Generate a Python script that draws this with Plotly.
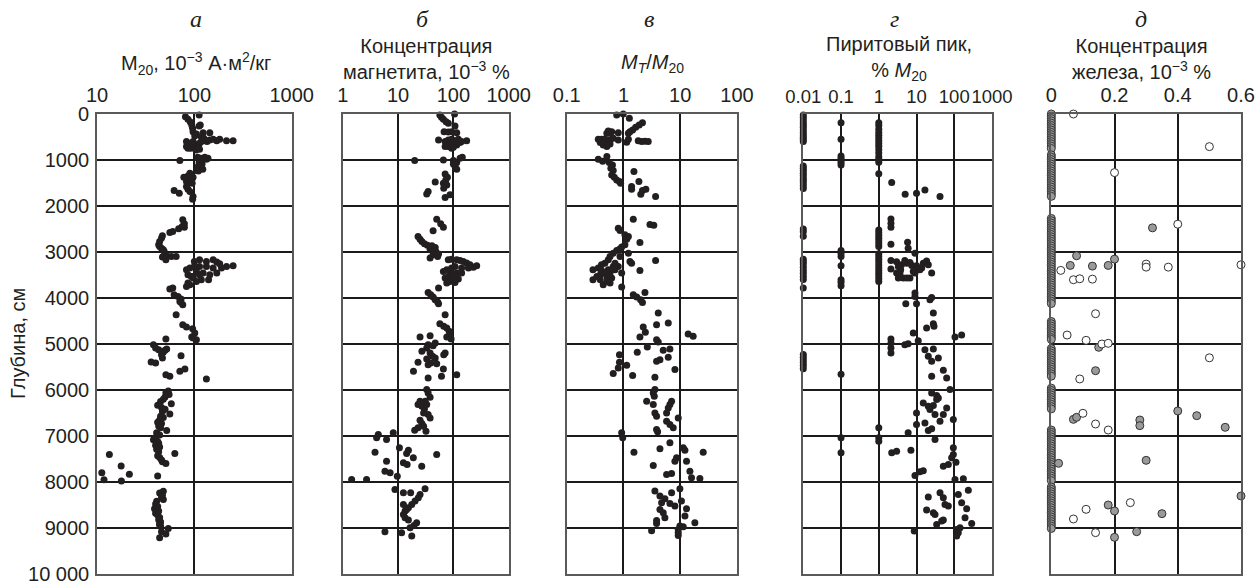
import plotly.graph_objects as go

# ---------------- data (depth in cm, value) ----------------
# Panel а: M20, 10^-3 A·m2/kg
a_depth = [22, 58, 116, 174, 239, 311, 260, 239, 384, 434, 478, 405, 405, 492, 528,
           600, 651, 695, 622, 673, 600, 709, 637, 564, 600, 579, 564, 550, 600, 579, 550, 579, 579, 745, 745, 767, 781, 745, 709,
           1013, 941, 962, 941, 984, 962, 1056, 1085, 1129, 1165, 1201, 1237, 1230,
           1288, 1346, 1375, 1433, 1375, 1469, 1490, 1505, 1577, 1664, 1722, 1635, 1686, 1794, 1852,
           2301, 2388, 2446, 2496, 2460, 2554, 2576,
           2648, 2698, 2771, 2844, 2880, 2916, 2952, 2988, 3061, 3111, 3097, 3097, 3169,
           3205, 3169, 3205, 3169, 3219, 3256, 3314, 3300, 3350, 3350, 3314, 3314, 3314, 3350, 3386, 3422, 3459, 3495, 3459,
           3495, 3531, 3495, 3531, 3603, 3603, 3640, 3567, 3712, 3676, 3748, 3784,
           3806, 3929, 3965, 4023, 4074, 4146, 4096,
           4363, 4580, 4631, 4667, 4761, 4848, 4870, 4906, 4891,
           5014, 5087, 5123, 5137, 5181, 5231, 5304, 5412, 5391, 5593, 5253, 5543, 5702, 5760, 5666, 5109,
           6020, 6060, 6100, 6150, 6200, 6250, 6300, 6330, 6380, 6420, 6470, 6520, 6570, 6600, 6650, 6700, 6730,
           6780, 6820, 6880, 6930, 6980, 7030, 7080, 7120, 7160, 7200, 7240, 7290, 7340, 7380, 7430, 7470, 7520,
           7560, 7600, 7650,
           7400, 7800, 7950, 7980, 7830, 7870,
           8200, 8240, 8290, 8330, 8380, 8420, 8480, 8530, 8580, 8630, 8680, 8720, 8770, 8820, 8870, 8920, 8960,
           9010, 8930, 9080, 9130, 9210, 9160]
a_value = [112, 81, 86, 91, 94, 96, 112, 115, 97, 105, 101, 123, 144, 118, 125,
           83, 90, 100, 97, 104, 97, 110, 113, 123, 118, 133, 144, 156, 135, 170, 182, 214, 250, 92, 105, 113, 104, 86, 83,
           71, 108, 117, 128, 133, 138, 112, 120, 110, 115, 122, 110, 105,
           90, 86, 97, 94, 78, 83, 90, 95, 83, 62, 70, 86, 90, 97, 96,
           76, 79, 75, 69, 79, 60, 56,
           47, 46, 44, 43, 44, 46, 48, 49, 51, 47, 58, 65, 51,
           100, 113, 133, 156, 170, 182, 214, 250, 190, 156, 133, 113, 100, 90, 83, 105, 123, 144,
           170, 113, 97, 86, 93, 118, 140, 105, 97, 90, 86, 83,
           60, 56, 62, 68, 73, 71, 76,
           73, 65, 76, 83, 96, 101, 94, 97, 105,
           51, 38, 40, 43, 50, 48, 46, 47, 40, 36, 71, 73, 80, 56, 133, 51,
           52, 54, 51, 55, 50, 48, 45, 58, 42, 46, 50, 47, 56, 45, 48, 44, 42,
           46, 43, 45, 52, 41, 44, 40, 38, 42, 43, 40, 44, 41, 43, 63, 42, 44,
           46, 47, 51,
           17.7, 13.4, 11.2, 11.8, 17.8, 21.5,
           42, 48, 44, 47, 46, 48, 41, 40, 42, 39, 43, 40, 42, 44, 43, 45, 44,
           45, 54, 44, 46, 51, 44]

# Panel б: magnetite concentration, 10^-3 %
b_depth = [20, 0, 72, 116, 166, 203, 260, 384, 391, 384, 405, 564, 600, 564, 550, 579, 550, 579, 651, 673, 637, 673,
           709, 745, 622, 709, 724, 600,
           1013, 999, 1013, 1056, 962, 941, 1129, 1201, 1085,
           1302, 1375, 1433, 1505, 1476, 1541, 1614, 1686, 1737, 1758, 1816,
           2287, 2388, 2460, 2540,
           2663, 2721, 2771, 2822, 2851, 2865, 2902, 2938, 2988, 3046, 3061, 3133, 3097,
           3169, 3155, 3169, 3183, 3205, 3241, 3278, 3300, 3329, 3350, 3350, 3314, 3350, 3386, 3422, 3422, 3459,
           3459, 3495, 3531, 3567, 3567, 3589, 3640, 3676, 3662,
           3784, 3878, 3929, 3980, 4038, 4088, 4124,
           4363, 4558, 4616, 4653, 4725, 4891, 4848, 4761,
           4848, 4819, 5014, 5087, 5036, 4978, 5159, 5195, 5268, 5304, 5326, 5449, 5412, 5427, 5231, 5195, 5398,
           5593, 5543, 5702, 5738, 5666,
           5991, 6064, 6158, 6245, 6245, 6317, 6353, 6411, 6534, 6606, 6657, 6729, 6787, 6823, 6874, 6896, 6498, 6317,
           6932, 6968, 7040, 7076, 7352, 7257, 7308, 7381, 7475, 7583, 7619, 7656, 7402, 7547, 7764, 7800, 7873,
           7945, 7945,
           8162, 8234, 8234, 8148, 8271, 8343, 8415, 8488, 8560, 8632, 8705, 8777, 8828, 8886, 8943, 8994, 9081,
           9103, 9175, 8596, 8488]
b_value = [57, 105, 61, 66, 74, 81, 107, 68, 81, 93, 115, 54, 71, 81, 93, 107, 123, 174, 76, 87, 100, 115,
           81, 93, 132, 71, 100, 141,
           20, 66, 100, 115, 132, 145, 107, 115, 100,
           71, 78, 73, 66, 47, 76, 67, 35, 33, 87, 71,
           50, 59, 66, 43,
           23, 25, 27, 30, 34, 41, 47, 38, 48, 54, 43, 38, 52,
           81, 93, 115, 132, 151, 174, 200, 264, 230, 187, 141, 107, 93, 76, 66, 87, 115,
           141, 100, 81, 71, 93, 123, 87, 76, 107,
           54, 35, 39, 43, 47, 52, 54,
           71, 57, 67, 76, 84, 91, 76, 87,
           25, 38, 35, 33, 43, 47, 27, 38, 42, 47, 33, 35, 39, 50, 67, 71, 23,
           19, 66, 61, 35, 115,
           33, 35, 38, 31, 25, 23, 27, 30, 35, 38, 25, 27, 29, 23, 20, 32, 29, 33,
           8.2, 4.4, 4.1, 6.2, 3.84, 10.6, 15.4, 14.3, 18.9, 12.5, 14.6, 26.8, 50, 6.2, 5.8, 7.2, 9.7,
           1.45, 2.7,
           8.8, 12.5, 16.9, 30.8, 25, 23.3, 20.3, 17.7, 15.4, 13.4, 12.5, 13.4, 15.4, 21.7, 19.5, 16.5, 5.8,
           11.6, 17.7, 14.3, 12.5]

# Panel в: M_T / M_20
c_depth = [22, 0, 94, 188, 239, 289, 347, 384, 420, 384, 369, 420, 420, 405, 550, 550, 543, 600, 564, 528, 564,
           615, 550, 579, 600, 593, 600, 673, 709, 622, 651,
           984, 1027, 926, 1056, 1107, 1179, 1230, 1324, 1375, 1433, 1469, 1505,
           1252, 1469, 1577, 1635, 1664, 1635, 1744, 1794,
           2287, 2402, 2417, 2482, 2533, 2627, 2663, 2721, 2793,
           2844, 2894, 2938, 2967, 3025, 3025, 3097, 3169, 3242, 3278, 3386, 3603, 3459, 3531, 3495, 3712, 3459,
           3386, 3314, 3459, 3763, 3205, 3242, 3401, 3184, 3350, 3401, 3444, 3386, 3603, 3640, 3567, 3314, 3097,
           3242, 3531, 3676,
           3929, 3980, 4038, 3878, 4096,
           4327, 4580, 4544, 4631, 4747, 4848, 4783, 4834, 4906, 4957, 5065, 5181, 5231, 5137, 5109, 5289, 5340,
           5376, 5557, 5463, 5398, 5644, 5687, 5521, 5724,
           5991, 6064, 6136, 6245, 6317, 6245, 6389, 6498, 6498, 6570, 6606, 6823, 6751, 6679, 6859, 6910, 6317,
           6932, 7040, 7352, 7279, 7149, 7257, 7308, 7352, 7475, 7547, 7547, 7641, 7836, 7815, 7764, 7909, 7923,
           8198, 8307, 8365, 8234, 8148, 8452, 8466, 8524, 8415, 8596, 8669, 8777, 8582, 8741, 8835, 8900, 8886,
           8958, 8973, 9030, 9103, 9059, 9161]
c_value = [0.76, 0.99, 1.27, 2.16, 1.89, 1.64, 1.45, 1.30, 1.22, 0.62, 0.54, 0.51, 0.58, 0.81, 0.36, 0.41, 0.47,
           0.51, 0.58, 0.66, 0.81, 1.14, 1.22, 1.82, 2.09, 2.39, 2.73, 0.44, 0.51, 0.39, 0.58,
           0.36, 0.43, 0.51, 0.56, 0.64, 0.60, 0.66, 0.62, 0.69, 0.76, 0.85, 0.89,
           1.53, 1.87, 1.39, 1.39, 2.16, 2.48, 2.02, 3.68,
           1.49, 2.93, 3.42, 0.81, 0.87, 1.06, 1.22, 1.14, 1.95,
           1.06, 0.93, 0.85, 0.76, 1.22, 0.66, 0.58, 0.54, 0.47, 0.41, 0.29, 0.29, 0.44, 0.51, 0.39, 0.44, 0.58,
           0.71, 0.81, 0.93, 0.93, 1.30, 1.39, 1.95, 3.68, 0.36, 0.41, 0.47, 0.54, 0.39, 0.51, 0.62, 0.66, 0.87,
           0.71, 0.34, 0.58,
           1.49, 1.71, 2.0, 2.39, 2.16,
           4.10, 3.83, 6.15, 2.23, 2.43, 1.95, 13.8, 16.9, 3.83, 4.10, 2.63, 1.75, 0.85, 5.02, 6.58, 6.15, 4.39,
           3.83, 8.06, 1.14, 0.85, 0.66, 1.45, 0.81, 3.58,
           3.58, 3.35, 3.49, 2.56, 3.35, 7.04, 6.15, 5.75, 3.58, 3.83, 9.22, 7.53, 6.58, 5.75, 3.83, 4.0, 6.58,
           0.93, 0.97, 1.53, 4.39, 6.58, 11.3, 12.1, 25.4, 8.62, 8.06, 12.9, 3.35, 5.75, 7.04, 14.8, 15.8, 22.2,
           3.58, 4.39, 5.37, 7.04, 9.86, 4.70, 6.58, 8.06, 10.5, 4.39, 5.02, 5.37, 12.9, 12.1, 3.83, 3.83, 18.1,
           9.86, 11.3, 9.22, 9.22, 3.13, 9.22]

# Panel г: pyrite peak, % of M20
d_depth = [22, 72, 130, 188, 239, 289, 347, 405, 456, 506, 550, 600,
           1129, 1180, 1230, 1290, 1340, 1400, 1450, 1500, 1560, 1620,
           2500, 2560, 2660,
           3160, 3210, 3260, 3330, 3400, 3460, 3530, 3600, 3780,
           5230, 5290, 5350, 5410, 5470, 5540,
           188, 550, 912, 960, 1010, 1060, 1107, 2967, 3030, 3097, 3300, 3603, 3660, 3734, 5660, 7040, 7366,
           188, 250, 330, 400, 460, 520, 580, 640, 700, 770, 850, 930, 990, 1050, 1300,
           2520, 2580, 2640, 2700, 2760, 2820, 2880,
           3040, 3100, 3160, 3220, 3280, 3340, 3400, 3460, 3520, 3580, 3640,
           6823, 7040, 7113,
           1490, 1744, 1722, 1650, 1794,
           2280, 2373, 2460, 2829, 2786, 2916, 3025, 3184, 3372, 3213, 3278, 3242, 3184, 3227, 3314, 3292, 3300,
           3198, 3278, 3242, 3459, 3350, 3422, 3459, 3459, 3459, 3567, 3567, 3567, 3567, 3386, 3386,
           3893, 3965, 4124, 4124, 4038, 3987,
           4327, 4559, 4616, 4653,
           4891, 4978, 5087, 5195, 4761, 4928, 5014, 4993,
           4848, 4805, 5123, 5109, 5268, 5376, 5304, 5572, 5702, 5738, 5991,
           6064, 6122, 6172, 6281, 6353, 6339, 6425, 6534, 6534, 6679, 6643, 6498, 6751, 6715, 6881, 6845, 6389, 6208,
           6932, 7076, 7366, 7330, 7308, 7257, 7475, 7656, 7619, 7569, 7858, 7779, 7757, 7945, 7931, 7402,
           8177, 8271, 8452, 8234, 8328, 8343, 8488, 8524, 8611, 8669, 8705, 8922, 8828, 8850, 8582, 8777, 8900,
           8994, 9030, 9103, 9175, 9067]
d_value = [0.01] * 40 + [0.1] * 17 + [1.0] * 36 + [
           2.2, 5.0, 10, 16.7, 41.9,
           2.1, 2.1, 2.1, 2.1, 5.8, 6.0, 9.1, 2.1, 2.1, 2.97, 4.0, 5.5, 4.9, 6.7, 3.3, 7.5, 10,
           18.5, 20.5, 15.1, 25.2, 13.7, 8.2, 9.1, 2.97, 3.64, 4.45, 6.7, 5.5, 3.3, 3.8, 12.3,
           9.1, 9.1, 10, 5.2, 22.7, 25.2,
           27.9, 27.9, 29, 18.5,
           2.1, 2.1, 2.1, 2.1, 8.2, 11.1, 4.9, 6.0,
           104.6, 157, 16.7, 27.9, 20.5, 25.2, 37.9, 51.3, 25.2, 62.9, 77,
           25.2, 34.2, 37.9, 15.1, 20.5, 27.9, 22.7, 30.9, 51.3, 41.9, 94.5, 10, 10, 16.7, 20.5, 25.2, 62.9, 34.2,
           6.0, 30.9, 2.2, 2.97, 7.1, 94.5, 85.3, 51.3, 69.6, 111, 9.1, 12.3, 15.1, 104.6, 174, 94.5,
           236, 128, 157, 41.9, 20.5, 51.3, 56.8, 69.6, 18.5, 27.9, 30.9, 34.2, 51.3, 46.4, 213, 193, 290,
           142, 115.8, 128, 115.8, 8.7]

# Panel д: iron concentration, 10^-3 %
e_zero_depth = [0, 50, 100, 150, 200, 250, 300, 350, 400, 450, 500, 550, 600, 650, 700, 750,
                890, 940, 990, 1040, 1090, 1140, 1190, 1240, 1290, 1340, 1390, 1440, 1490, 1540, 1590, 1640,
                1690, 1740, 1790,
                2270, 2320, 2370, 2420, 2470, 2520, 2570, 2620, 2670, 2720, 2770, 2820, 2870, 2920, 2970, 3020,
                3070, 3120, 3170, 3220, 3270, 3320, 3370, 3420, 3470, 3520, 3570, 3620, 3670, 3720, 3770, 3820,
                3870, 3920, 3970, 4020, 4070, 4120,
                4510, 4560, 4610, 4660, 4710, 4760, 4810, 4860, 4900,
                5100, 5150, 5200, 5250, 5300, 5350, 5400, 5450, 5500, 5550, 5600, 5650, 5700,
                5960, 6010, 6060, 6110, 6160, 6210, 6260, 6310, 6360, 6410,
                6870, 6920, 6970, 7020, 7070, 7120, 7170, 7220, 7270, 7320, 7370, 7420, 7470, 7520, 7570, 7620,
                7670, 7720, 7770, 7820, 7870, 7920, 7970,
                8110, 8160, 8210, 8260, 8310, 8360, 8410, 8460, 8510, 8560, 8610, 8660, 8710, 8760, 8810, 8860,
                8910, 8960, 9010]
e_zero_value = [0.0] * 157
e_grey_depth = [2475, 3082, 3292, 3307, 3292, 3155, 5072, 5580, 6638, 6594, 6652, 6775, 6456, 6558, 6811,
                7594, 7529, 8304, 8500, 8630, 8688, 9080, 9203]
e_grey_value = [0.32, 0.08, 0.06, 0.13, 0.18, 0.20, 0.15, 0.14, 0.07, 0.08, 0.28, 0.28, 0.40, 0.46, 0.55,
                0.023, 0.30, 0.60, 0.18, 0.20, 0.35, 0.27, 0.20]
e_open_depth = [0, 709, 1274, 2395, 3278, 3400, 3603, 3582, 3590, 3263, 3329, 3329, 4342, 4805, 4920, 5000, 4985,
                5300, 5760, 6507, 6739, 6870, 8449, 8594, 8804, 9101]
e_open_value = [0.07, 0.50, 0.20, 0.40, 0.60, 0.03, 0.07, 0.09, 0.13, 0.30, 0.30, 0.37, 0.14, 0.05, 0.11, 0.16,
                0.18, 0.50, 0.09, 0.10, 0.14, 0.18, 0.25, 0.11, 0.07, 0.14]

depth_ticks = [0, 1000, 2000, 3000, 4000, 5000, 6000, 7000, 8000, 9000, 10000]
depth_labels = ["0", "1000", "2000", "3000", "4000", "5000", "6000", "7000", "8000", "9000", "10 000"]

# ---------------- layout geometry ----------------
W, H = 1256, 581
TOP, BOTTOM = 114, 574
FONT = "Liberation Sans, Arial, sans-serif"
SERIF = "Liberation Serif, Times New Roman, serif"
INK = "#231f20"
TICK_SIZE = 20
TITLE_SIZE = 20

def px_x(x):
    return x / W

def px_y(y):
    return (BOTTOM - y) / (BOTTOM - TOP)

panels = [
    # (left px, right px, type, range, tickvals, ticktext, tick font size)
    (97.0, 291.7, "log", [1, 3], [10, 100, 1000], ["10", "100", "1000"], TICK_SIZE),
    (342.7, 508.7, "log", [0, 3], [1, 10, 100, 1000], ["1", "10", "100", "1000"], TICK_SIZE),
    (566.7, 737.0, "log", [-1, 2], [0.1, 1, 10, 100], ["0.1", "1", "10", "100"], TICK_SIZE),
    (803.3, 992.0, "log", [-2, 3], [0.01, 0.1, 1, 10, 100, 1000],
     ["0.01", "0.1", "1", "10", "100", "1000"], 18.5),
    (1051.3, 1241.0, "linear", [0, 0.6], [0, 0.2, 0.4, 0.6], ["0", "0.2", "0.4", "0.6"], TICK_SIZE),
]

fig = go.Figure()

series = [(a_value, a_depth), (b_value, b_depth), (c_value, c_depth), (d_value, d_depth)]
for i, (xs, ys) in enumerate(series):
    sfx = "" if i == 0 else str(i + 1)
    fig.add_trace(go.Scatter(x=xs, y=ys, mode="markers", xaxis="x" + sfx, yaxis="y" + sfx,
                             marker=dict(size=7, color=INK, line=dict(width=0)),
                             cliponaxis=False, showlegend=False))

for xs, ys, fill in [(e_zero_value, e_zero_depth, "#9a9a9a"),
                     (e_grey_value, e_grey_depth, "#9a9a9a"),
                     (e_open_value, e_open_depth, "#ffffff")]:
    fig.add_trace(go.Scatter(x=xs, y=ys, mode="markers", xaxis="x5", yaxis="y5",
                             marker=dict(size=8, color=fill, line=dict(width=1, color="#333333")),
                             cliponaxis=False, showlegend=False))

layout = dict(
    width=W, height=H,
    margin=dict(l=0, r=0, t=TOP, b=H - BOTTOM, pad=0),
    paper_bgcolor="white", plot_bgcolor="white",
    template="none",
    font=dict(family=FONT, size=TITLE_SIZE, color=INK),
    showlegend=False,
)

for i, (l, r, typ, rng, tv, tt, fs) in enumerate(panels):
    sfx = "" if i == 0 else str(i + 1)
    layout["xaxis" + sfx] = dict(
        domain=[px_x(l), px_x(r)], type=typ, range=rng, side="top",
        anchor="y" + sfx, tickvals=tv, ticktext=tt, tickangle=0,
        ticks="", showgrid=True, gridcolor="#1a1a1a", gridwidth=1.6,
        zeroline=False, showline=True, linecolor="#5a5a5a", linewidth=1.6, mirror=True,
        tickfont=dict(family=FONT, size=fs, color=INK), automargin=False,
        ticklabelstandoff=2, ticklabeloverflow="allow",
    )
    layout["yaxis" + sfx] = dict(
        domain=[0, 1], range=[10000, 0], anchor="x" + sfx,
        tickvals=depth_ticks, ticktext=depth_labels, showticklabels=(i == 0),
        ticks="", showgrid=True, gridcolor="#1a1a1a", gridwidth=1.6,
        zeroline=False, showline=True, linecolor="#5a5a5a", linewidth=1.6, mirror=True,
        tickfont=dict(family=FONT, size=TICK_SIZE, color=INK), automargin=False,
        ticklabelstandoff=2, ticklabeloverflow="allow",
    )

annotations = []

def ann(text, x, y, size=TITLE_SIZE, family=FONT, angle=0):
    annotations.append(dict(text=text, x=px_x(x), y=px_y(y), xref="paper", yref="paper",
                            xanchor="center", yanchor="middle", showarrow=False, textangle=angle,
                            font=dict(family=family, size=size, color=INK)))

letters = ["а", "б", "в", "г", "д"]
letter_x = [196, 422, 649, 894, 1141]
for t, x in zip(letters, letter_x):
    ann("<i>" + t + "</i>", x, 19, size=24, family=SERIF)

ann("M<sub>20</sub>, 10<sup>−3</sup> А·м<sup>2</sup>/кг", 196, 64)
ann("Концентрация<br>магнетита, 10<sup>−3</sup> %", 426, 59)
ann("<i>M</i><sub><i>T</i></sub>/<i>M</i><sub>20</sub>", 652, 64)
ann("Пиритовый пик,<br>% <i>M</i><sub>20</sub>", 899, 59)
ann("Концентрация<br>железа, 10<sup>−3</sup> %", 1141, 59)
ann("Глубина, см", 18, 344, angle=-90)

layout["annotations"] = annotations
fig.update_layout(**layout)

fig.write_html("out.html", config={"displayModeBar": False},
               post_script="document.body.style.margin='0px';document.body.style.padding='0px';")
